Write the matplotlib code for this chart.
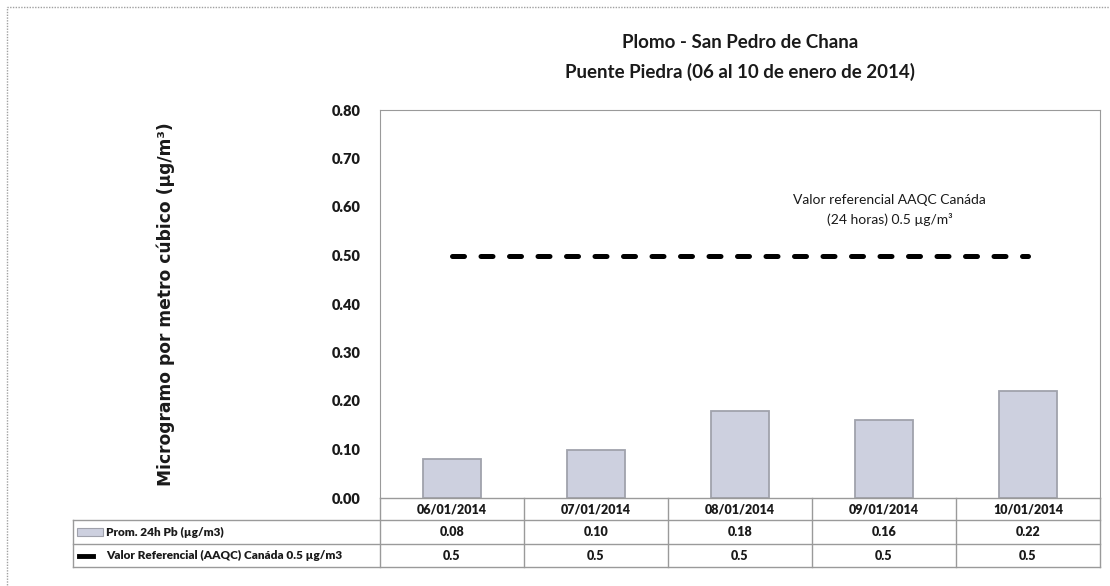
import matplotlib.pyplot as plt
from matplotlib.patches import Rectangle
from matplotlib.lines import Line2D

fechas = ['06/01/2014', '07/01/2014', '08/01/2014', '09/01/2014', '10/01/2014']
prom_pb = [0.08, 0.10, 0.18, 0.16, 0.22]
valor_ref = [0.5, 0.5, 0.5, 0.5, 0.5]
etiquetas_tabla = ['0.08', '0.10', '0.18', '0.16', '0.22']
etiquetas_ref = ['0.5', '0.5', '0.5', '0.5', '0.5']
yticks = [0.0, 0.1, 0.2, 0.3, 0.4, 0.5, 0.6, 0.7, 0.8]

plt.rcParams['font.family'] = ['Lato', 'DejaVu Sans']

W, H = 1110, 586
fig = plt.figure(figsize=(W / 100, H / 100), dpi=100)

# area del grafico en pixeles
x0, x1, ytop, ybot = 380, 1100, 110, 498
ax = fig.add_axes([x0 / W, (H - ybot) / H, (x1 - x0) / W, (ybot - ytop) / H])

def ax_y(py):
    return (ybot - py) / (ybot - ytop)

def ax_x(px):
    return (px - x0) / (x1 - x0)

gris = '#9a9a9a'
texto = '#1a1a1a'

ax.bar(range(len(fechas)), prom_pb, width=0.4, color='#cdd0df',
       edgecolor='#a0a2ac', linewidth=1.3, zorder=2)
ax.plot(range(len(fechas)), valor_ref, color='black', lw=3.6,
        ls=(0, (2.4, 3.3)), dash_capstyle='round', zorder=3)

ax.set_xlim(-0.5, len(fechas) - 0.5)
ax.set_ylim(0, 0.8)
ax.set_yticks(yticks)
ax.set_yticklabels(['%.2f' % v for v in yticks], fontsize=10.5, fontweight='heavy',
                   color=texto)
ax.tick_params(axis='y', length=0, pad=14)
ax.set_xticks([])
for s in ['left', 'top', 'right']:
    ax.spines[s].set_color(gris)
ax.spines['bottom'].set_visible(False)

ax.set_ylabel('Microgramo por metro cúbico (µg/m³)', fontsize=12.3,
              fontweight='bold', family=['DejaVu Sans'], labelpad=0, color=texto)
ax.yaxis.set_label_coords(ax_x(175), 0.5)

fig.text(740 / W, 1 - 43 / H, 'Plomo - San Pedro de Chana', ha='center', va='center',
         fontsize=13.5, fontweight='bold', color=texto)
fig.text(740 / W, 1 - 72 / H, 'Puente Piedra (06 al 10 de enero de 2014)', ha='center',
         va='center', fontsize=13.5, fontweight='bold', color=texto)

xtr = ax.get_xaxis_transform()
ax.text(3.04, ax_y(210), 'Valor referencial AAQC Canáda\n(24 horas) 0.5 µg/m³',
        transform=xtr, ha='center', va='center', fontsize=10, linespacing=1.55,
        color=texto)

# tabla de datos bajo el grafico
tr = ax.transAxes
tabla_x0 = 73
def hline(py, pxa, pxb):
    ax.add_line(Line2D([ax_x(pxa), ax_x(pxb)], [ax_y(py), ax_y(py)], transform=tr,
                       color=gris, lw=1, clip_on=False))
def vline(px, pya, pyb):
    ax.add_line(Line2D([ax_x(px), ax_x(px)], [ax_y(pya), ax_y(pyb)], transform=tr,
                       color=gris, lw=1, clip_on=False))

hline(498, x0, x1)
hline(520, tabla_x0, x1)
hline(544, tabla_x0, x1)
hline(567, tabla_x0, x1)
vline(tabla_x0, 520, 567)
for i in range(len(fechas) + 1):
    vline(x0 + i * (x1 - x0) / len(fechas), 498, 567)

for i, f in enumerate(fechas):
    ax.text(i, ax_y(509.5), f, transform=xtr, ha='center', va='center',
            fontsize=9, fontweight='heavy', color=texto)
    ax.text(i, ax_y(532), etiquetas_tabla[i], transform=xtr, ha='center', va='center',
            fontsize=9, fontweight='heavy', color=texto)
    ax.text(i, ax_y(555.5), etiquetas_ref[i], transform=xtr, ha='center', va='center',
            fontsize=9, fontweight='heavy', color=texto)

ax.add_patch(Rectangle((ax_x(77), ax_y(536)), ax_x(103) - ax_x(77), ax_y(528) - ax_y(536),
                       transform=tr, facecolor='#cdd0df', edgecolor='#a0a2ac', lw=0.8,
                       clip_on=False))
ax.text(ax_x(106), ax_y(532), 'Prom. 24h Pb (µg/m3)', transform=tr, ha='left',
        va='center', fontsize=8.5, fontweight='heavy', color=texto)
ax.add_line(Line2D([ax_x(79), ax_x(93)], [ax_y(555.5), ax_y(555.5)], transform=tr,
                   color='black', lw=3.5, clip_on=False))
ax.text(ax_x(106), ax_y(555.5), 'Valor Referencial (AAQC) Canáda 0.5 µg/m3', transform=tr,
        ha='left', va='center', fontsize=8.5, fontweight='heavy', color=texto)

# borde exterior
fig.add_artist(Rectangle((7 / W, -0.1), 1.2, 1 - 7 / H + 0.1, transform=fig.transFigure,
                         fill=False, edgecolor='#a0a0a0', lw=1, ls=(0, (1, 1))))

fig.savefig('out.png', dpi=100)
